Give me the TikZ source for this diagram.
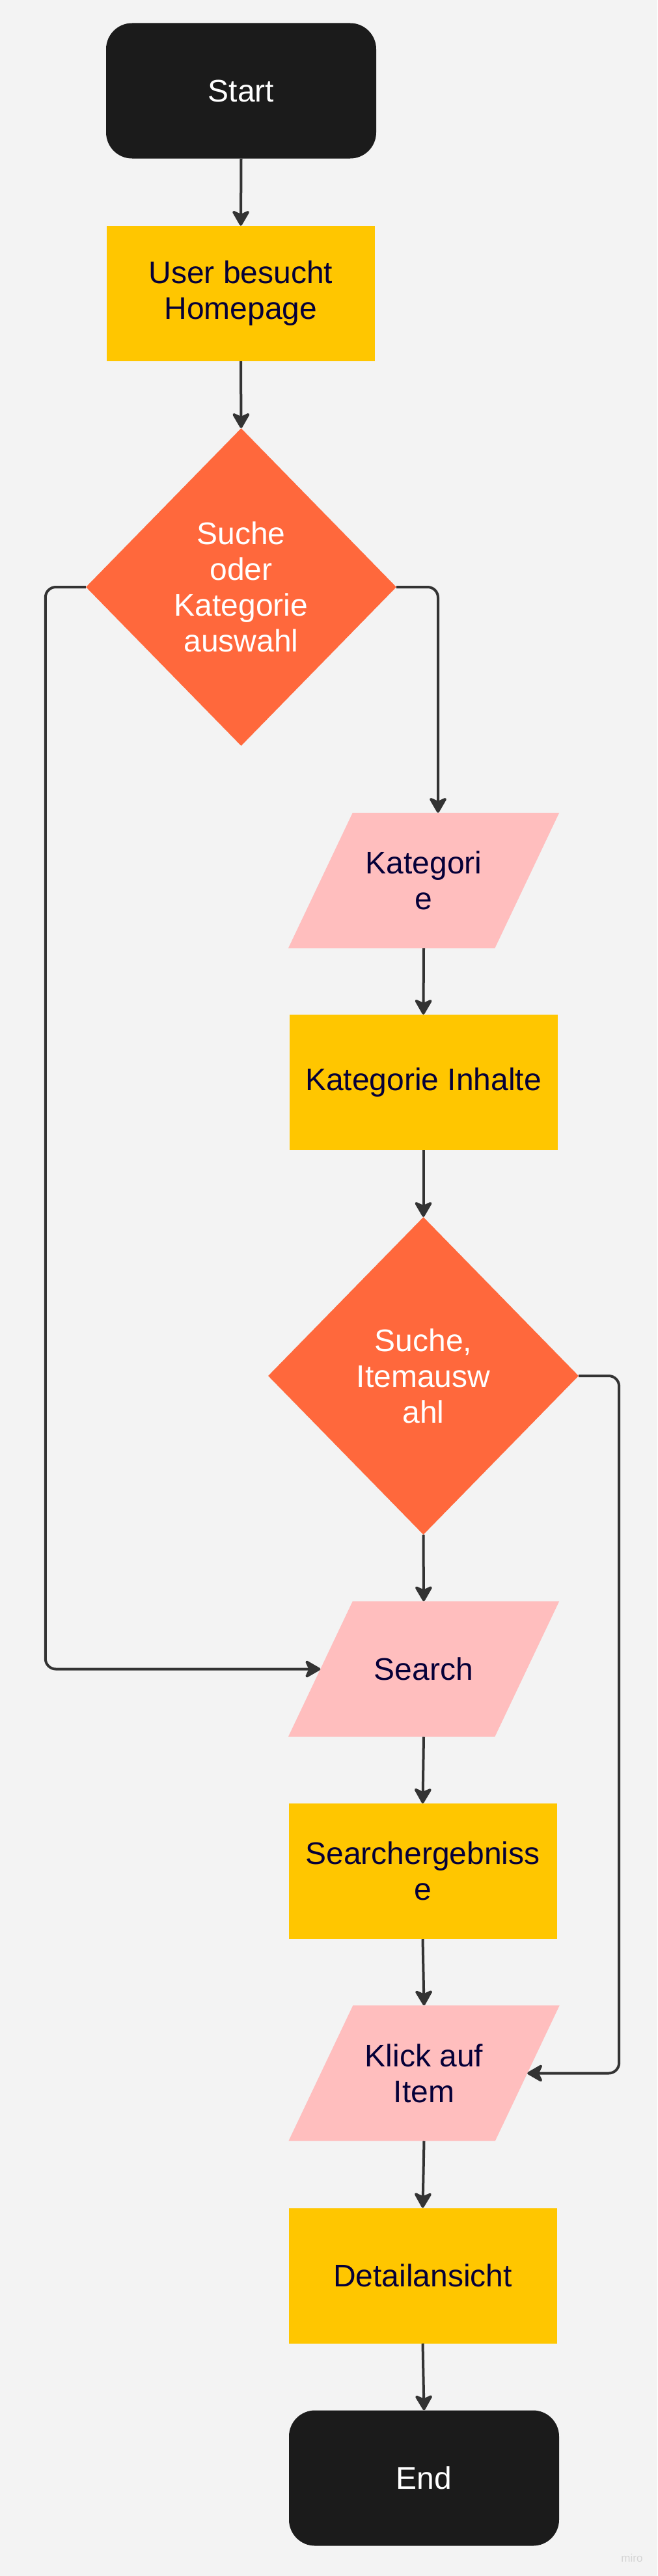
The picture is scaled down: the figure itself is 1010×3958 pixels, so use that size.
\documentclass[tikz,border=0pt]{standalone}
\usepackage{fontspec}
\setmainfont{Liberation Sans}
\usetikzlibrary{shapes.geometric,arrows.meta,backgrounds,calc}
\definecolor{bgc}{HTML}{F3F3F3}
\definecolor{termc}{HTML}{1B1B1B}
\definecolor{yelc}{HTML}{FFC600}
\definecolor{orc}{HTML}{FF683C}
\definecolor{pinkc}{HTML}{FFBEBE}
\definecolor{navyc}{HTML}{050038}
\definecolor{arrc}{HTML}{333333}
\definecolor{wmc}{HTML}{D4D4D4}
\begin{document}
\begin{tikzpicture}[x=1pt,y=-1pt,
  txt/.style={font=\fontsize{48pt}{55pt}\selectfont, align=center, inner sep=0pt},
  term/.style={txt, rectangle, rounded corners=40pt, fill=termc, text=white, minimum width=415pt, minimum height=208pt},
  proc/.style={txt, rectangle, fill=yelc, text=navyc, minimum width=412pt, minimum height=208pt},
  dec/.style={txt, diamond, fill=orc, text=white, minimum width=477pt, minimum height=488pt},
  io/.style={txt, rectangle, text=navyc, minimum width=416pt, minimum height=208pt},
  conn/.style={draw=arrc, line width=4pt, rounded corners=16pt, -{Stealth[length=27pt,width=31pt,inset=7pt,round]}}
]
\begin{scope}[on background layer]
\fill[bgc] (0,0) rectangle (1010,3958);
\end{scope}
\useasboundingbox (0,0) rectangle (1010,3958);

\node[term] (start) at (370.5,139.5) {Start};
\node[proc] (home) at (370,451) {User besucht\\Homepage};
\node[dec] (d1) at (370.5,902) {Suche\\oder\\Kategorie\\auswahl};
\node[io] (kat) at (651,1353) {Kategori\\e};
\node[proc] (inh) at (650.5,1663) {Kategorie Inhalte};
\node[dec] (d2) at (650.5,2114) {Suche,\\Itemausw\\ahl};
\node[io] (search) at (651,2564.5) {Search};
\node[proc] (erg) at (649.5,2875) {Searchergebniss\\e};
\node[io] (klick) at (651.5,3185.5) {Klick auf\\Item};
\node[proc] (detail) at (649.5,3496.5) {Detailansicht};
\node[term] (end) at (651.5,3807.5) {End};
\node[font=\fontsize{17pt}{20pt}\selectfont, text=wmc, inner sep=0pt] (wm) at (971,3930) {miro};

\begin{scope}[on background layer]
\foreach \n in {kat,search,klick}
  \fill[pinkc] ($(\n.north west)+(99,0)$) -- (\n.north east) -- ($(\n.south east)+(-99,0)$) -- (\n.south west) -- cycle;
\end{scope}

\coordinate (kIn) at ($(kat.north)+(22,0)$);
\coordinate (sIn) at ($(search.west)+(49.5,0)$);
\coordinate (klIn) at ($(klick.east)+(-49.5,0)$);

\draw[conn] (start.south) -- (home.north);
\draw[conn] (home.south) -- (d1.north);
\draw[conn] (d1.west) -- ++(-62,0) |- (sIn);
\draw[conn] (d1.east) -| (kIn);
\draw[conn] (kat.south) -- (inh.north);
\draw[conn] (inh.south) -- (d2.north);
\draw[conn] (d2.south) -- (search.north);
\draw[conn] (d2.east) -- ++(62,0) |- (klIn);
\draw[conn] (search.south) -- (erg.north);
\draw[conn] (erg.south) -- (klick.north);
\draw[conn] (klick.south) -- (detail.north);
\draw[conn] (detail.south) -- (end.north);
\end{tikzpicture}
\end{document}
